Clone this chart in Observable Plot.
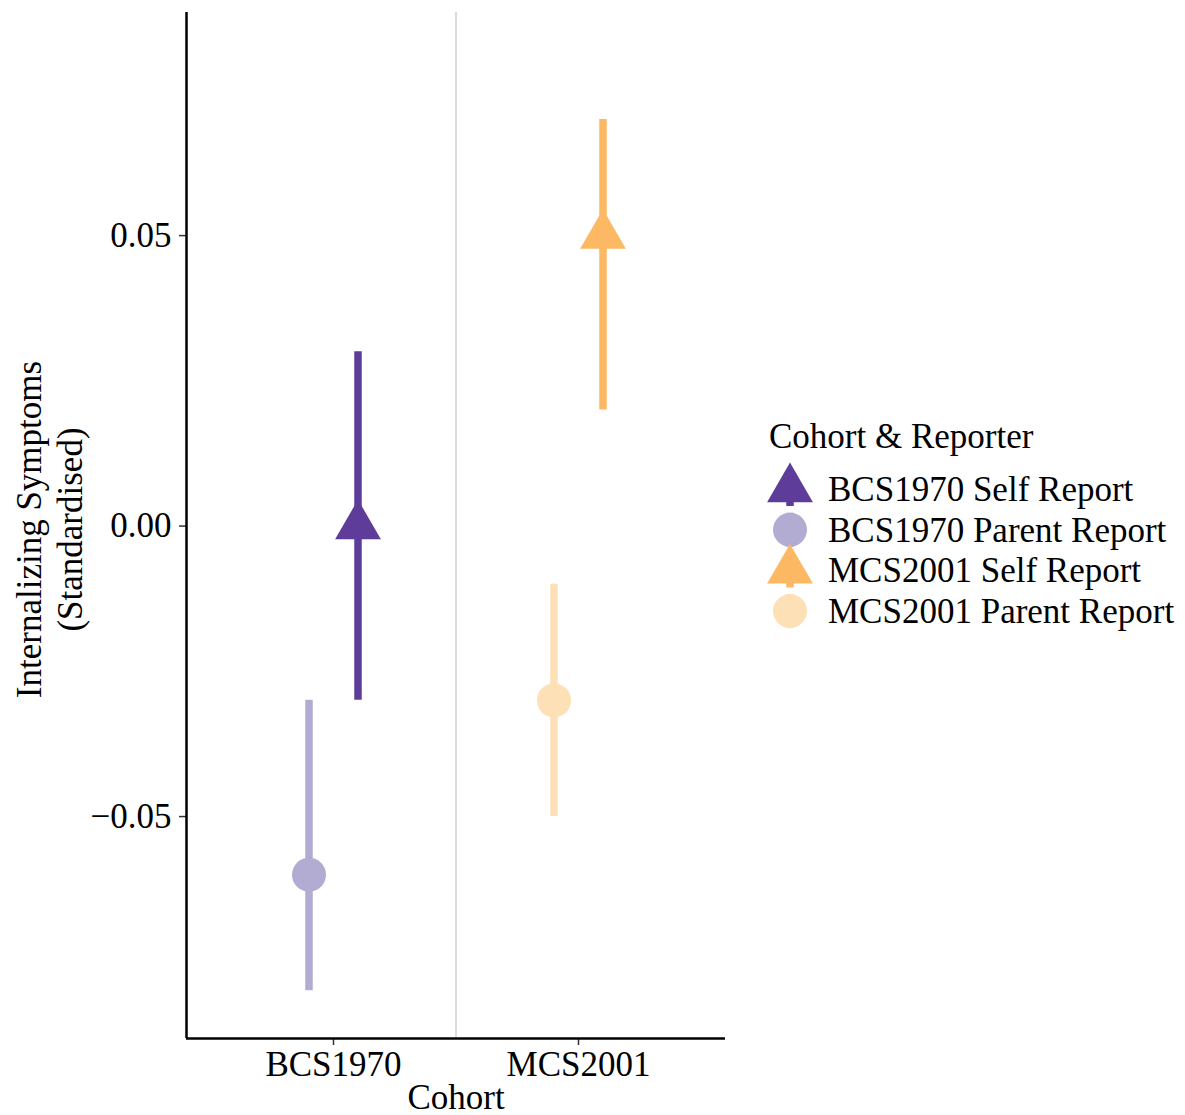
<!DOCTYPE html>
<html><head><meta charset="utf-8">
<script src="https://cdn.jsdelivr.net/npm/d3@7"></script>
<script src="https://cdn.jsdelivr.net/npm/@observablehq/plot@0.6"></script>
<style>body{margin:0;background:#fff} #chart{position:relative;width:1185px;height:1115px}</style>
</head><body><div id="chart"></div>
<script>
const cohorts = ["BCS1970", "BCS1970", "MCS2001", "MCS2001"];
const reporters = ["Self Report", "Parent Report", "Self Report", "Parent Report"];
const estimates = [0.00, -0.06, 0.05, -0.03];
const lower = [-0.03, -0.08, 0.02, -0.05];
const upper = [0.03, -0.03, 0.07, -0.01];
const cohortLevels = ["BCS1970", "MCS2001"];
const groupLevels = ["BCS1970 Self Report", "BCS1970 Parent Report", "MCS2001 Self Report", "MCS2001 Parent Report"];
const groupColors = ["#5e3c99", "#b2abd2", "#fdb863", "#fee0b6"];
const yTicks = [-0.05, 0, 0.05];

const FONT = "'Liberation Serif', 'Times New Roman', serif";
const dodge = {"Self Report": 0.1, "Parent Report": -0.1};
const data = cohorts.map((c, i) => ({
  cohort: c, reporter: reporters[i], group: c + " " + reporters[i],
  est: estimates[i], lo: lower[i], hi: upper[i],
  x: cohortLevels.indexOf(c) + 1 + dodge[reporters[i]]
}));

const yMin = -0.0882, yMax = 0.0884;
const plot = Plot.plot({
  width: 1185, height: 1115,
  marginLeft: 186, marginRight: 460, marginTop: 12, marginBottom: 77,
  style: {fontFamily: FONT, fontSize: "35px", background: "#fff", color: "#000"},
  x: {domain: [0.4, 2.6], axis: null},
  y: {domain: [yMin, yMax], axis: null},
  color: {domain: groupLevels, range: groupColors},
  symbol: {domain: ["Self Report", "Parent Report"], range: ["triangle", "circle"]},
  marks: [
    Plot.ruleX([1.5], {stroke: "#dcdcdc", strokeWidth: 2}),
    Plot.axisY({ticks: yTicks, tickFormat: d3.format(".2f"), tickSize: 7, tickPadding: 8, fontSize: 35, stroke: "#333", strokeWidth: 1.5, label: null}),
    Plot.axisX({ticks: [1, 2], tickFormat: d => cohortLevels[d - 1], tickSize: 7, tickPadding: 6, fontSize: 35, stroke: "#333", strokeWidth: 1.5, label: null}),
    Plot.ruleX([0.4], {stroke: "#000", strokeWidth: 2.5}),
    Plot.ruleY([yMin], {stroke: "#000", strokeWidth: 2.5}),
    Plot.ruleX(data, {x: "x", y1: "lo", y2: "hi", stroke: "group", strokeWidth: 7.5}),
    Plot.dot(data, {x: "x", y: "est", fill: "group", symbol: "reporter", r: 17, stroke: "none"}),
    Plot.text(["Cohort"], {frameAnchor: "bottom", dy: 59, fontSize: 35, lineAnchor: "middle", textAnchor: "middle"}),
    Plot.text(["Internalizing Symptoms\n(Standardised)"], {frameAnchor: "left", rotate: -90, dx: -138, dy: 4, fontSize: 35, lineHeight: 1.17, lineAnchor: "middle", textAnchor: "middle"})
  ]
});
document.getElementById("chart").appendChild(plot);

// Legend
const colorScale = plot.scale("color");
const svg = d3.select(plot);
const lg = svg.append("g").attr("font-family", FONT).attr("fill", "#000").attr("text-anchor", "start");
lg.append("text").attr("x", 769).attr("y", 448).attr("font-size", 35).text("Cohort & Reporter");
groupLevels.forEach((g, i) => {
  const cy = 489 + i * 40.7;
  const isSelf = g.includes("Self");
  const col = colorScale.apply(g);
  lg.append("line").attr("x1", 790).attr("x2", 790).attr("y1", cy - 17).attr("y2", cy + 17)
    .attr("stroke", col).attr("stroke-width", 7.5);
  lg.append("path").attr("transform", `translate(790,${cy})`)
    .attr("d", d3.symbol(isSelf ? d3.symbolTriangle : d3.symbolCircle, Math.PI * 17 * 17)())
    .attr("fill", col);
  lg.append("text").attr("x", 828).attr("y", cy + 12).attr("font-size", 35).text(g);
});
</script></body></html>
